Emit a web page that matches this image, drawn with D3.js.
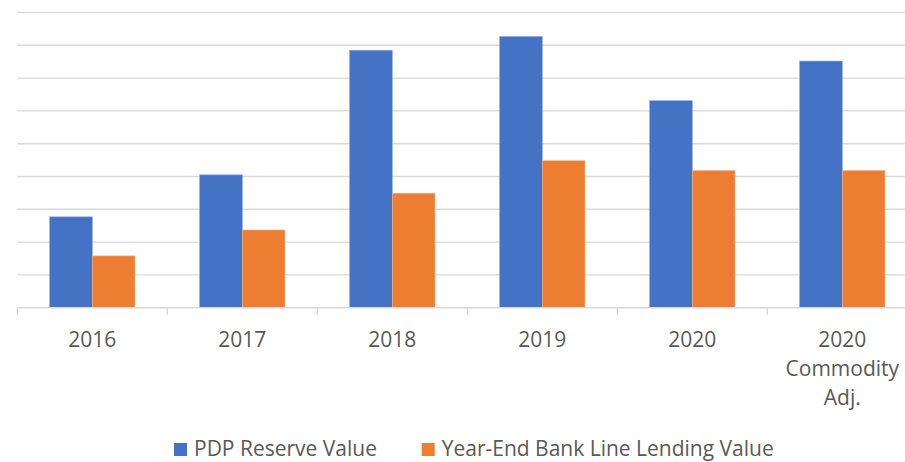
<!DOCTYPE html>
<html lang="en">
<head>
    <meta charset="UTF-8">
    <title>PDP Reserve Value vs Bank Line Lending Value</title>
    <style>
        html, body {
            margin: 0;
            padding: 0;
            background: #fff;
        }
        svg {
            display: block;
        }
        text {
            font-family: "Open Sans", "Noto Sans", sans-serif;
            fill: #595959;
        }
    </style>
</head>
<body>
    <script src="https://d3js.org/d3.v7.min.js"></script>
    <script>
        const categories = ['2016', '2017', '2018', '2019', '2020', '2020 Commodity Adj.']
        const seriesNames = ['PDP Reserve Value', 'Year-End Bank Line Lending Value']
        const pdpValues = [2.77, 4.05, 7.85, 8.27, 6.31, 7.52]
        const lendingValues = [1.58, 2.37, 3.49, 4.48, 4.18, 4.18]
        const gridTicks = [0, 1, 2, 3, 4, 5, 6, 7, 8, 9]
        const colors = ['#4472C4', '#ED7D31']

        const width = 905
        const height = 462

        const svg = d3.select('body')
            .append('svg')
            .attr('width', width)
            .attr('height', height)

        const x0 = d3.scaleBand()
            .domain(categories)
            .range([17.3, 917.3])

        // two bars per year, centred in the band (Excel gap width ~150%)
        const x1 = d3.scaleBand()
            .domain(seriesNames)
            .range([0, x0.bandwidth()])
            .paddingInner(0)
            .paddingOuter(0.758)

        const y = d3.scaleLinear()
            .domain([0, 9])
            .range([307.7, 12.5])

        // gridlines
        svg.append('g')
            .selectAll('line')
            .data(gridTicks.slice(1))
            .enter()
            .append('line')
            .attr('x1', 17.3)
            .attr('x2', width)
            .attr('y1', d => y(d))
            .attr('y2', d => y(d))
            .attr('stroke', '#d9d9d9')
            .attr('stroke-width', 1.4)

        const rows = categories.map((c, i) => ({
            cat: c,
            values: [pdpValues[i], lendingValues[i]]
        }))

        const groups = svg.selectAll('g.cat')
            .data(rows)
            .enter()
            .append('g')
            .attr('class', 'cat')
            .attr('transform', d => `translate(${x0(d.cat)}, 0)`)

        groups.selectAll('rect')
            .data(d => d.values.map((v, i) => ({ key: seriesNames[i], value: v, i })))
            .enter()
            .append('rect')
            .attr('x', d => x1(d.key))
            .attr('width', x1.bandwidth())
            .attr('y', d => y(d.value))
            .attr('height', d => y(0) - y(d.value))
            .attr('fill', d => colors[d.i])
            .attr('stroke', d => d.i === 0 ? '#8faadc' : '#f4b183')
            .attr('stroke-width', 0.6)

        // x axis
        const xAxis = svg.append('g')
            .attr('transform', `translate(0, ${y(0)})`)
            .call(d3.axisBottom(x0).tickSize(0).tickFormat(''))
        xAxis.select('.domain')
            .attr('d', `M17.3,0H${width}`)
            .attr('stroke', '#d9d9d9')
            .attr('stroke-width', 1.4)

        // tick marks at band boundaries
        svg.append('g')
            .selectAll('line')
            .data(categories)
            .enter()
            .append('line')
            .attr('x1', d => x0(d))
            .attr('x2', d => x0(d))
            .attr('y1', y(0))
            .attr('y2', y(0) + 7)
            .attr('stroke', '#d9d9d9')
            .attr('stroke-width', 1.4)

        // category labels, wrapping the long one
        const labelLines = {
            '2020 Commodity Adj.': ['2020', 'Commodity', 'Adj.']
        }
        const labels = svg.append('g')
            .selectAll('text')
            .data(categories)
            .enter()
            .append('text')
            .attr('text-anchor', 'middle')
            .attr('font-size', 21)
            .attr('x', d => x0(d) + x0.bandwidth() / 2)
            .attr('y', 347)

        labels.selectAll('tspan')
            .data(d => (labelLines[d] || [d]).map(t => ({ t, x: x0(d) + x0.bandwidth() / 2 })))
            .enter()
            .append('tspan')
            .attr('x', d => d.x)
            .attr('dy', (d, i) => i === 0 ? 0 : 29)
            .text(d => d.t)

        // legend
        const legendX = [174, 421.7]
        const legend = svg.append('g')
            .selectAll('g')
            .data(seriesNames)
            .enter()
            .append('g')
            .attr('transform', (d, i) => `translate(${legendX[i]}, 443)`)

        legend.append('rect')
            .attr('width', 13)
            .attr('height', 13)
            .attr('fill', (d, i) => colors[i])

        legend.append('text')
            .attr('x', 20)
            .attr('y', 13)
            .attr('font-size', 21)
            .text(d => d)
    </script>
</body>
</html>
